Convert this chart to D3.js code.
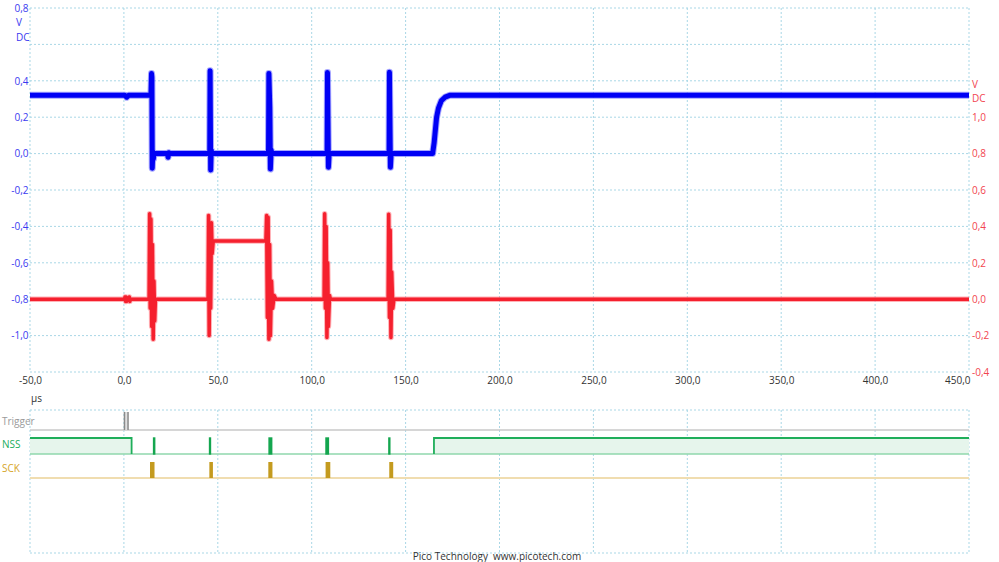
<!DOCTYPE html>
<html><head><meta charset="utf-8">
<script src="https://cdn.jsdelivr.net/npm/d3@7"></script>
<style>
html,body{margin:0;padding:0;background:#fff;}
svg{display:block;font-family:"Open Sans","Noto Sans",sans-serif;}
</style></head>
<body>
<svg id="c" width="999" height="562"></svg>
<script>
// ---------- data ----------
const xTicks = [-50,0,50,100,150,200,250,300,350,400,450];
const leftTicks = [0.8,0.4,0.2,0.0,-0.2,-0.4,-0.6,-0.8,-1.0];
const leftGrid = [0.8,0.6,0.4,0.2,0.0,-0.2,-0.4,-0.6,-0.8,-1.0,-1.2];
const rightTicks = [1.0,0.8,0.6,0.4,0.2,0.0,-0.2,-0.4];

// Channel A (blue, left axis, V) : time in µs
const blueT = [-50,-30,0.5,1.5,2.5,14.4,14.7,14.9,15.1,15.4,15.7,16.0,23.2,23.5,23.9,24.3,
  45.7,45.9,46.2,46.5,46.8,77.0,77.2,77.7,78.0,78.4,78.8,108.2,108.4,108.9,109.3,
  141.2,141.4,141.9,142.3,164.4,165.2,166.5,167.5,169,171,173.5,450];
const blueV = [0.32,0.32,0.32,0.31,0.32,0.32,0.44,0.42,-0.08,0.01,-0.03,0.0,0.0,-0.02,0.005,0.0,
  0.0,0.455,-0.09,0.02,0.0,0.0,0.44,0.25,-0.085,0.02,0.0,0.0,0.446,-0.075,0.0,
  0.0,0.447,-0.075,0.0,0.0,0.06,0.2,0.25,0.29,0.31,0.32,0.32];

// Channel B (red, right axis, V)
const redT = [-50,0.3,0.6,0.9,1.2,1.5,1.8,2.6,2.9,3.2,3.5,
  13.4,13.7,14.0,14.4,14.8,15.2,15.6,16.0,16.4,16.8,
  44.8,45.1,45.4,45.8,46.2,46.6,47.0,47.6,
  75.6,76.0,76.4,76.8,77.2,77.6,78.0,78.6,79.2,80.0,81,
  106.6,106.9,107.3,107.7,108.1,108.5,108.9,109.5,110,
  140.7,141.0,141.4,141.8,142.2,142.6,143.2,143.8,450];
const redV = [0,0,0.012,-0.012,0.012,-0.012,0,0,0.012,-0.012,0,
  0,0.47,-0.05,0.44,-0.15,0.3,-0.22,0.1,-0.12,0,
  0,0.46,-0.2,0.4,-0.05,0.42,0.25,0.32,
  0.32,0.46,-0.1,0.45,-0.22,0.3,-0.2,0.1,-0.05,0.02,0,
  0,0.47,-0.05,0.4,-0.21,0.2,-0.15,0.02,0,
  0,0.467,-0.1,0.38,-0.21,0.15,-0.05,0,0];

// Digital channels (high intervals, µs)
const trigHigh = [[0.3,2.2]];
const nssHigh = [[-50,4.1],[15.8,16.4],[45.6,46.1],[77.3,78.7],[107.6,108.9],[141.1,141.6],[165.1,450]];
const sckHigh = [[13.9,16.3],[45.5,47.4],[76.9,79.1],[107.4,109.9],[141.3,143.4]];

// ---------- drawing ----------
const svg = d3.select("#c");
const X0 = 30, X1 = 969, YT = 8, YB = 372;
const x = d3.scaleLinear().domain([-50,450]).range([X0,X1]);
const yL = d3.scaleLinear().domain([-1.2,0.8]).range([YB,YT]);
const yR = d3.scaleLinear().domain([-0.4,1.6]).range([YB,YT]);
const fmt = d => d3.format(".1f")(d).replace(".",",").replace("\u2212","-");
const gridCol = "#a9d7e6";

// grid
const g = svg.append("g");
leftGrid.forEach(v=>{
  g.append("line").attr("x1",X0).attr("x2",X1).attr("y1",yL(v)).attr("y2",yL(v))
   .attr("stroke",gridCol).attr("stroke-width",1).attr("stroke-dasharray","2,2");
});
xTicks.forEach(t=>{
  g.append("line").attr("x1",x(t)).attr("x2",x(t)).attr("y1",YT).attr("y2",YB)
   .attr("stroke",gridCol).attr("stroke-width",1).attr("stroke-dasharray","2,2");
  g.append("line").attr("x1",x(t)).attr("x2",x(t)).attr("y1",410).attr("y2",553)
   .attr("stroke",gridCol).attr("stroke-width",1).attr("stroke-dasharray","2,2");
});
[410,553].forEach(yy=>{
  g.append("line").attr("x1",X0).attr("x2",X1).attr("y1",yy).attr("y2",yy)
   .attr("stroke",gridCol).attr("stroke-width",1).attr("stroke-dasharray","2,2");
});

// axes
const axL = svg.append("g").attr("transform",`translate(${X0-1.5},0)`)
  .call(d3.axisLeft(yL).tickValues(leftTicks).tickSize(0).tickPadding(0).tickFormat(fmt));
axL.select(".domain").remove();
axL.selectAll("text").attr("fill","#3a3af0").style("font-size","10px").style("font-family","'Open Sans',sans-serif");
svg.append("text").attr("x",16).attr("y",22).attr("dy","0.35em").text("V")
  .attr("fill","#3a3af0").style("font-size","10px");
svg.append("text").attr("x",16).attr("y",37).attr("dy","0.35em").text("DC")
  .attr("fill","#3a3af0").style("font-size","10px");

const axR = svg.append("g").attr("transform",`translate(${X1+3},0)`)
  .call(d3.axisRight(yR).tickValues(rightTicks).tickSize(0).tickPadding(0).tickFormat(fmt));
axR.select(".domain").remove();
axR.selectAll("text").attr("fill","#f2454f").style("font-size","10px").style("font-family","'Open Sans',sans-serif");
svg.append("text").attr("x",972).attr("y",84).attr("dy","0.35em").text("V")
  .attr("fill","#f2454f").style("font-size","10px");
svg.append("text").attr("x",972).attr("y",98).attr("dy","0.35em").text("DC")
  .attr("fill","#f2454f").style("font-size","10px");

const axB = svg.append("g").attr("transform",`translate(0,377)`)
  .call(d3.axisBottom(x).tickValues(xTicks).tickSize(0).tickPadding(0).tickFormat(fmt));
axB.select(".domain").remove();
axB.selectAll("text").attr("fill","#333").style("font-size","10px").style("font-family","'Open Sans',sans-serif");
axB.selectAll(".tick").filter(d=>d===450).select("text").attr("text-anchor","end").attr("dx","1");
svg.append("text").attr("x",31).attr("y",398).attr("dy","0.35em").text("µs")
  .attr("fill","#333").style("font-size","10px");

// analog traces
const blue = blueT.map((t,i)=>[t,blueV[i]]);
const red = redT.map((t,i)=>[t,redV[i]]);
const lineB = d3.line().x(d=>x(d[0])).y(d=>yL(d[1]));
const lineR = d3.line().x(d=>x(d[0])).y(d=>yR(d[1]));
svg.append("path").attr("d",lineR(red)).attr("fill","none").attr("stroke","#ff8088")
  .attr("stroke-width",5.5).attr("stroke-linejoin","round").attr("opacity",0.6);
svg.append("path").attr("d",lineR(red)).attr("fill","none").attr("stroke","#f5202e")
  .attr("stroke-width",3.5).attr("stroke-linejoin","round");
svg.append("path").attr("d",lineB(blue)).attr("fill","none").attr("stroke","#6a6aff")
  .attr("stroke-width",7).attr("stroke-linejoin","round").attr("opacity",0.6);
svg.append("path").attr("d",lineB(blue)).attr("fill","none").attr("stroke","#0000f5")
  .attr("stroke-width",5).attr("stroke-linejoin","round");

// digital: Trigger
const lblStyle = (s)=>s.style("font-size","10px");
svg.append("text").attr("x",2).attr("y",421).attr("dy","0.35em").text("Trigger")
  .attr("fill","#9a9a9a").call(lblStyle);
svg.append("line").attr("x1",X0).attr("x2",X1).attr("y1",430).attr("y2",430)
  .attr("stroke","#c8c8c8").attr("stroke-width",1.5);
trigHigh.forEach(([a,b])=>{
  svg.append("rect").attr("x",x(a)).attr("y",412).attr("width",x(b)-x(a)).attr("height",18).attr("fill","#e0e0e0");
  [a,b].forEach(t=>svg.append("line").attr("x1",x(t)).attr("x2",x(t)).attr("y1",412).attr("y2",430)
    .attr("stroke","#8a8a8a").attr("stroke-width",1.5));
});

// NSS
const NH = 438, NL = 454;
svg.append("text").attr("x",2).attr("y",444).attr("dy","0.35em").text("NSS")
  .attr("fill","#22ad5c").call(lblStyle);
nssHigh.forEach(([a,b])=>{
  svg.append("rect").attr("x",x(a)).attr("y",NH).attr("width",Math.max(0,x(b)-x(a))).attr("height",NL-NH)
    .attr("fill","#e6f5ec");
});
svg.append("line").attr("x1",X0).attr("x2",X1).attr("y1",NL).attr("y2",NL)
  .attr("stroke","#8fd7ac").attr("stroke-width",1.5);
nssHigh.forEach(([a,b])=>{
  if (a<=-50) {
    svg.append("path").attr("d",`M${x(a)},${NH}H${x(b)}V${NL}`).attr("fill","none")
      .attr("stroke","#1fae5a").attr("stroke-width",1.8);
  } else if (b>=450) {
    svg.append("path").attr("d",`M${x(a)},${NL}V${NH}H${x(b)}`).attr("fill","none")
      .attr("stroke","#1fae5a").attr("stroke-width",1.8);
  } else {
    svg.append("rect").attr("x",x(a)).attr("y",NH).attr("width",x(b)-x(a)).attr("height",NL-NH)
      .attr("fill","#14a64f").attr("stroke","#14a64f").attr("stroke-width",1.4);
  }
});

// SCK
svg.append("text").attr("x",2).attr("y",468).attr("dy","0.35em").text("SCK")
  .attr("fill","#d6a52a").call(lblStyle);
svg.append("line").attr("x1",X0).attr("x2",X1).attr("y1",478).attr("y2",478)
  .attr("stroke","#f0ddb0").attr("stroke-width",2);
sckHigh.forEach(([a,b])=>{
  svg.append("rect").attr("x",x(a)).attr("y",462).attr("width",x(b)-x(a)).attr("height",16)
    .attr("fill","#c49b1f");
});

// footer
svg.append("text").attr("x",497).attr("y",556).attr("dy","0.35em").attr("text-anchor","middle")
  .text("Pico Technology  www.picotech.com").attr("fill","#333").style("font-size","10px")
  .style("white-space","pre");
</script>
</body></html>
